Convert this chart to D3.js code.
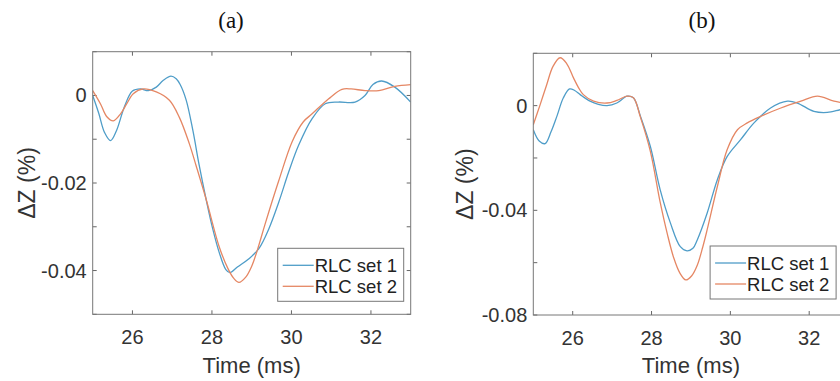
<!DOCTYPE html>
<html>
<head>
<meta charset="utf-8">
<script src="https://cdn.jsdelivr.net/npm/d3@7"></script>
<style>
  body { margin: 0; background: #fff; }
  text { font-family: "Liberation Sans", Arial, sans-serif; }
</style>
</head>
<body>
<div id="chart"></div>
<script>
const seriesNames = ['RLC set 1', 'RLC set 2']
const colors = ['#4f9dc8', '#e58764']

// panel (a)
const timeA1 = [25.0, 25.15, 25.3, 25.45, 25.6, 25.8, 26.0, 26.2, 26.4, 26.6, 26.77, 26.97, 27.1, 27.2, 27.35, 27.52, 27.68, 27.85, 28.02, 28.18, 28.35, 28.45, 28.64, 28.93, 29.18, 29.43, 29.68, 29.93, 30.18, 30.52, 30.85, 31.18, 31.6, 31.85, 32.05, 32.27, 32.6, 33.0]
const valA1 = [0.0000, -0.0040, -0.0085, -0.0103, -0.0080, -0.0025, 0.0010, 0.0015, 0.0011, 0.0019, 0.0034, 0.0044, 0.0038, 0.0025, -0.0010, -0.0080, -0.0160, -0.0236, -0.0305, -0.0358, -0.0398, -0.0405, -0.0392, -0.0373, -0.0350, -0.0305, -0.0244, -0.0175, -0.0114, -0.0053, -0.0019, -0.0015, -0.0015, 0.0000, 0.0025, 0.0033, 0.0019, -0.0015]
const timeA2 = [25.0, 25.2, 25.35, 25.52, 25.7, 25.85, 26.02, 26.27, 26.6, 26.93, 27.18, 27.43, 27.6, 27.85, 28.18, 28.4, 28.55, 28.68, 28.85, 29.0, 29.14, 29.35, 29.68, 30.02, 30.3, 30.52, 30.93, 31.27, 31.5, 31.85, 32.2, 32.6, 33.0]
const valA2 = [0.0011, -0.0020, -0.0048, -0.0058, -0.0042, -0.0020, 0.0004, 0.0015, 0.0008, -0.0011, -0.0050, -0.0110, -0.0160, -0.0236, -0.0345, -0.0395, -0.0418, -0.0427, -0.0415, -0.0390, -0.0354, -0.0290, -0.0195, -0.0105, -0.0060, -0.0042, -0.0008, 0.0014, 0.0015, 0.0011, 0.0011, 0.0021, 0.0025]

// panel (b)
const timeB1 = [25.0, 25.15, 25.3, 25.45, 25.6, 25.76, 25.92, 26.05, 26.19, 26.44, 26.65, 26.87, 27.12, 27.38, 27.54, 27.72, 27.97, 28.22, 28.48, 28.73, 28.9, 29.05, 29.16, 29.41, 29.67, 29.92, 30.26, 30.6, 31.02, 31.45, 31.7, 32.12, 32.46, 32.8, 33.0]
const valB1 = [-0.0092, -0.0135, -0.0145, -0.0100, -0.0040, 0.0029, 0.0064, 0.0058, 0.0042, 0.0017, 0.0005, 0.0000, 0.0010, 0.0036, 0.0030, -0.0041, -0.0156, -0.0322, -0.0449, -0.0539, -0.0555, -0.0545, -0.0513, -0.0411, -0.0283, -0.0194, -0.0130, -0.0066, -0.0009, 0.0017, 0.0010, -0.0022, -0.0026, -0.0015, -0.0010]
const timeB2 = [25.0, 25.17, 25.34, 25.5, 25.68, 25.85, 26.02, 26.15, 26.27, 26.53, 26.87, 27.12, 27.38, 27.54, 27.72, 27.97, 28.22, 28.4, 28.56, 28.72, 28.87, 29.02, 29.16, 29.3, 29.41, 29.67, 29.92, 30.18, 30.43, 30.77, 31.28, 31.79, 32.21, 32.63, 33.0]
const valB2 = [-0.0073, 0.0002, 0.0080, 0.0150, 0.0183, 0.0160, 0.0106, 0.0068, 0.0042, 0.0017, 0.0010, 0.0020, 0.0036, 0.0030, -0.0045, -0.0175, -0.0370, -0.0490, -0.0580, -0.0640, -0.0666, -0.0650, -0.0610, -0.0540, -0.0475, -0.0309, -0.0168, -0.0092, -0.0066, -0.0041, -0.0009, 0.0017, 0.0036, 0.0017, 0.0008]

const xDomain = [25, 33]
const xTicks = [26, 28, 30, 32]
const yDomainA = [-0.05, 0.01]
const yTicksA = [0.01, 0, -0.01, -0.02, -0.03, -0.04, -0.05]
const yLabelsA = [0, -0.02, -0.04]
const yDomainB = [-0.08, 0.02]
const yTicksB = [0.02, 0, -0.02, -0.04, -0.06, -0.08]
const yLabelsB = [0, -0.04, -0.08]

const W = 840, H = 381

const svg = d3.select('#chart').append('svg')
    .attr('width', W)
    .attr('height', H)

// panel (b) runs past the right edge of the picture, as in the source
const panels = [
    {title: '(a)', titleX: 231, left: 92.7, right: 410.7, top: 51.7, bottom: 314.3,
     yDomain: yDomainA, yTicks: yTicksA, yLabels: yLabelsA, ylabX: 35,
     series: [[timeA1, valA1], [timeA2, valA2]], legRight: 7, legBottom: 13},
    {title: '(b)', titleX: 702, left: 533.3, right: 848.6, top: 53.3, bottom: 315,
     yDomain: yDomainB, yTicks: yTicksB, yLabels: yLabelsB, ylabX: 473,
     series: [[timeB1, valB1], [timeB2, valB2]], legRight: 12.5, legBottom: 16}
]

panels.forEach((p, pi) => {
    let x = d3.scaleLinear().domain(xDomain).range([p.left, p.right])
    let y = d3.scaleLinear().domain(p.yDomain).range([p.bottom, p.top])
    let g = svg.append('g')

    // caption
    g.append('text')
        .attr('x', p.titleX).attr('y', 28)
        .attr('text-anchor', 'middle')
        .style('font-family', '"Liberation Serif", "Times New Roman", serif')
        .style('font-size', '23px')
        .attr('fill', '#111')
        .text(p.title)

    g.append('clipPath').attr('id', 'clip' + pi)
        .append('rect')
        .attr('x', p.left).attr('y', p.top)
        .attr('width', p.right - p.left).attr('height', p.bottom - p.top)

    // ticks point inward on all four sides
    let tickLen = 4
    let tk = g.append('g').attr('stroke', '#666').attr('stroke-width', 1)
    xTicks.forEach(t => {
        tk.append('line').attr('x1', x(t)).attr('x2', x(t)).attr('y1', p.bottom).attr('y2', p.bottom - tickLen)
        tk.append('line').attr('x1', x(t)).attr('x2', x(t)).attr('y1', p.top).attr('y2', p.top + tickLen)
    })
    p.yTicks.forEach(v => {
        tk.append('line').attr('y1', y(v)).attr('y2', y(v)).attr('x1', p.left).attr('x2', p.left + tickLen)
        tk.append('line').attr('y1', y(v)).attr('y2', y(v)).attr('x1', p.right).attr('x2', p.right - tickLen)
    })

    let line = d3.line()
        .x(d => x(d[0]))
        .y(d => y(d[1]))
        .curve(d3.curveCatmullRom.alpha(0.5))

    p.series.forEach((s, si) => {
        let pts = s[0].map((t, i) => [t, s[1][i]])
        g.append('path')
            .datum(pts)
            .attr('clip-path', `url(#clip${pi})`)
            .attr('fill', 'none')
            .attr('stroke', colors[si])
            .attr('stroke-width', 1.3)
            .attr('d', line)
    })

    g.append('rect')
        .attr('x', p.left).attr('y', p.top)
        .attr('width', p.right - p.left).attr('height', p.bottom - p.top)
        .attr('fill', 'none').attr('stroke', '#777').attr('stroke-width', 1)

    xTicks.forEach(t => {
        g.append('text')
            .attr('x', x(t)).attr('y', p.bottom + 30)
            .attr('text-anchor', 'middle')
            .style('font-size', '20px').attr('fill', '#333')
            .text(t)
    })
    p.yLabels.forEach(v => {
        g.append('text')
            .attr('x', p.left - 6).attr('y', y(v) + 7)
            .attr('text-anchor', 'end')
            .style('font-size', '20px').attr('fill', '#333')
            .text(String(v))
    })

    g.append('text')
        .attr('x', x((xDomain[0] + xDomain[1]) / 2))
        .attr('y', 373)
        .attr('text-anchor', 'middle')
        .style('font-size', '22px').attr('fill', '#333')
        .text('Time (ms)')

    g.append('text')
        .attr('transform', `translate(${p.ylabX},${(p.top + p.bottom) / 2}) rotate(-90)`)
        .attr('text-anchor', 'middle')
        .style('font-size', '23px').attr('fill', '#333')
        .text('ΔZ (%)')

    // legend, lower right
    let lw = 126, lh = 53
    let lx = p.right - p.legRight - lw, ly = p.bottom - p.legBottom - lh
    let lg = g.append('g')
    lg.append('rect')
        .attr('x', lx).attr('y', ly).attr('width', lw).attr('height', lh)
        .attr('fill', '#fff').attr('stroke', '#777').attr('stroke-width', 1)
    seriesNames.forEach((name, i) => {
        let ry = ly + 17 + i * 21
        lg.append('line')
            .attr('x1', lx + 5).attr('x2', lx + 36)
            .attr('y1', ry).attr('y2', ry)
            .attr('stroke', colors[i]).attr('stroke-width', 1.3)
        lg.append('text')
            .attr('x', lx + 37).attr('y', ry + 6.5)
            .style('font-size', '18.5px').attr('fill', '#222')
            .text(name)
    })
})
</script>
</body>
</html>
